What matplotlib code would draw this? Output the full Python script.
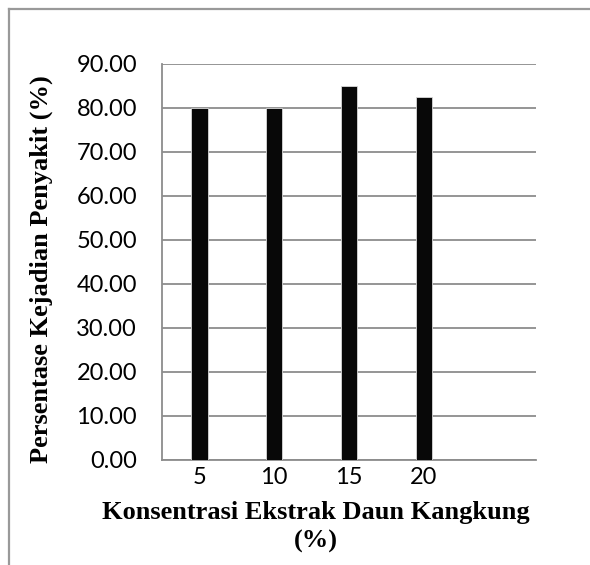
import matplotlib
matplotlib.use("Agg")
import matplotlib.pyplot as plt
from matplotlib.lines import Line2D

# Data
categories = ["5", "10", "15", "20", ""]
values = [80.0, 80.0, 85.0, 82.5, 0.0]
yticks = [0, 10, 20, 30, 40, 50, 60, 70, 80, 90]

fig = plt.figure(figsize=(5.9, 5.65), dpi=100)
ax = fig.add_axes([162 / 590, 1 - 460 / 565, 374 / 590, 396 / 565])

grid_color = "#8c8c8c"
x = range(len(categories))
shown = [v if c else 0 for c, v in zip(categories, values)]
ax.bar(x, shown, width=0.22, color="#080808", edgecolor="#d8d8d8",
       linewidth=0.6, zorder=3)

ax.set_xlim(-0.5, len(categories) - 0.5)
ax.set_ylim(0, 90)
ax.set_yticks(yticks)
ax.set_yticklabels([f"{t:.2f}" for t in yticks], fontfamily="Lato", fontsize=17)
ax.set_xticks(list(x))
ax.set_xticklabels(categories, fontfamily="Lato", fontsize=17)
ax.tick_params(axis="both", length=0)
ax.tick_params(axis="y", pad=18)
ax.tick_params(axis="x", pad=5)
ax.yaxis.grid(True, color=grid_color, linewidth=1.3, zorder=0)
ax.set_axisbelow(True)
for s in ["top", "right"]:
    ax.spines[s].set_visible(False)
for s in ["left", "bottom"]:
    ax.spines[s].set_color(grid_color)
    ax.spines[s].set_linewidth(1.3)

serif = dict(fontfamily="Liberation Serif", fontweight="bold", fontsize=19)
fig.text(316 / 590, 1 - 512 / 565, "Konsentrasi Ekstrak Daun Kangkung",
         ha="center", va="center", **serif)
fig.text(316 / 590, 1 - 541 / 565, "(%)", ha="center", va="center", **serif)
fig.text(41 / 590, 1 - 269 / 565, "Persentase Kejadian Penyakit (%)",
         ha="center", va="center", rotation=90, **serif)

# Frame lines along the top and left edges
fig.add_artist(Line2D([9 / 590, 1.0], [1 - 9 / 565, 1 - 9 / 565],
                      color="#999999", linewidth=1.6, transform=fig.transFigure))
fig.add_artist(Line2D([9 / 590, 9 / 590], [0.0, 1 - 9 / 565],
                      color="#999999", linewidth=1.6, transform=fig.transFigure))

fig.savefig("out.png", dpi=100)
